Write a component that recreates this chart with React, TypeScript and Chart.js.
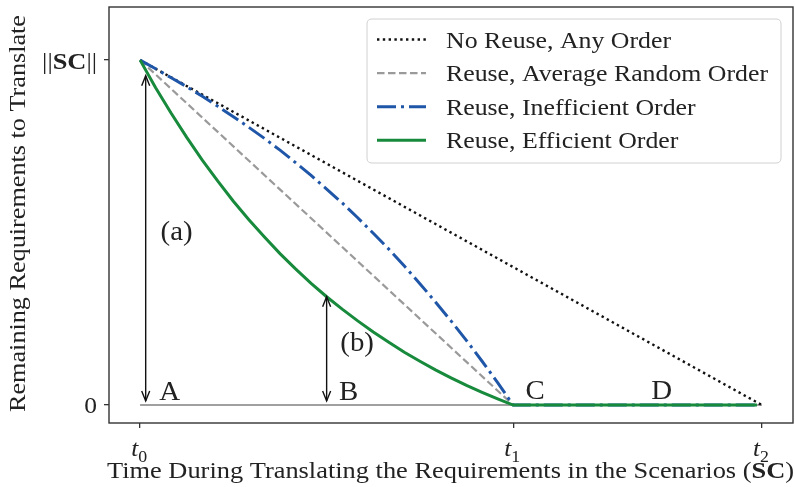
import React, { useEffect, useRef } from 'react';
import { Chart, registerables } from 'chart.js';

Chart.register(...registerables);

// ---------- data ----------
const curveX = [0, 0.25, 0.5, 0.75, 1, 1.25, 1.5, 1.75, 2, 2.25, 2.5, 2.75, 3, 3.25, 3.5, 3.75, 4, 4.25, 4.5, 4.75, 5, 5.25, 5.5, 5.75, 6, 9.92];
const efficientY = [1, 0.92, 0.846, 0.776, 0.71, 0.649, 0.591, 0.537, 0.487, 0.439, 0.395, 0.353, 0.314, 0.278, 0.244, 0.212, 0.182, 0.153, 0.127, 0.102, 0.079, 0.057, 0.037, 0.018, 0, 0];
const inefficientY = [1, 0.975, 0.949, 0.923, 0.895, 0.866, 0.836, 0.805, 0.773, 0.739, 0.703, 0.666, 0.626, 0.586, 0.543, 0.498, 0.452, 0.403, 0.352, 0.299, 0.244, 0.187, 0.127, 0.065, 0, 0];
const noReuseX = [0, 10];
const noReuseY = [1, 0];
const randomX = [0, 6];
const randomY = [1, 0];
const baselineX = [0, 10];
const baselineY = [0, 0];

const legendLabels = ['No Reuse, Any Order', 'Reuse, Average Random Order', 'Reuse, Inefficient Order', 'Reuse, Efficient Order'];

const xTickValues = [0, 6, 10];
const xTickSubs = ['0', '1', '2'];
const yTickValues = [0, 1];

const annoTexts = ['(a)', '(b)', 'A', 'B', 'C', 'D'];
const annoX = [0.33, 3.22, 0.31, 3.2, 6.2, 8.22];
const annoY = [0.478, 0.157, 0.015, 0.015, 0.017, 0.017];

const arrowX = [0.09, 3.0];
const arrowFrom = [0.012, 0.012];
const arrowTo = [0.955, 0.314];

// ---------- text helpers ----------
const SERIF = '"Liberation Serif", "Times New Roman", serif';
type Run = { t: string; size: number; weight?: string; style?: string; dy?: number };
const fontOf = (r: Run) => `${r.style || 'normal'} ${r.weight || 'normal'} ${r.size}px ${SERIF}`;
function runsWidth(ctx: CanvasRenderingContext2D, runs: Run[]) {
  let w = 0;
  for (const r of runs) {
    ctx.font = fontOf(r);
    w += ctx.measureText(r.t).width;
  }
  return w;
}
function drawRuns(ctx: CanvasRenderingContext2D, runs: Run[], x: number, y: number, align: string, hs: number) {
  const w = runsWidth(ctx, runs) * hs;
  let cx = align === 'left' ? x : align === 'center' ? x - w / 2 : x - w;
  for (const r of runs) {
    ctx.font = fontOf(r);
    const rw = ctx.measureText(r.t).width;
    ctx.save();
    ctx.translate(cx, y + (r.dy || 0));
    ctx.scale(hs, 1);
    ctx.textAlign = 'left';
    ctx.textBaseline = 'alphabetic';
    ctx.fillText(r.t, 0, 0);
    ctx.restore();
    cx += rw * hs;
  }
}

const TEXT = '#222222';

function drawArrowHead(ctx: CanvasRenderingContext2D, x: number, y: number, dir: number) {
  const L = 10, W = 4;
  ctx.beginPath();
  ctx.moveTo(x - W, y - dir * L);
  ctx.lineTo(x, y);
  ctx.lineTo(x + W, y - dir * L);
  ctx.stroke();
}

const decorPlugin = {
  id: 'decor',
  afterDraw(chart: any) {
    const ctx: CanvasRenderingContext2D = chart.ctx;
    const xs = chart.scales.x;
    const ys = chart.scales.y;
    const a = chart.chartArea;
    ctx.save();

    // frame
    ctx.strokeStyle = '#333333';
    ctx.lineWidth = 1.4;
    ctx.strokeRect(a.left, a.top, a.right - a.left, a.bottom - a.top);

    // arrows
    ctx.strokeStyle = '#111111';
    ctx.lineWidth = 1.4;
    arrowX.forEach((xv, i) => {
      const px = xs.getPixelForValue(xv);
      const y1 = ys.getPixelForValue(arrowFrom[i]);
      const y2 = ys.getPixelForValue(arrowTo[i]);
      ctx.beginPath();
      ctx.moveTo(px, y1);
      ctx.lineTo(px, y2);
      ctx.stroke();
      drawArrowHead(ctx, px, y1, 1);
      drawArrowHead(ctx, px, y2, -1);
    });

    ctx.fillStyle = TEXT;
    annoTexts.forEach((t, i) => {
      drawRuns(ctx, [{ t, size: 27.5 }], xs.getPixelForValue(annoX[i]), ys.getPixelForValue(annoY[i]), 'left', 1.05);
    });

    // y tick labels
    const y0 = ys.getPixelForValue(yTickValues[0]);
    const y1 = ys.getPixelForValue(yTickValues[1]);
    drawRuns(ctx, [{ t: '0', size: 24 }], a.left - 12, y0 + 8, 'right', 1.06);
    drawRuns(
      ctx,
      [
        { t: '||', size: 24 },
        { t: 'SC', size: 24, weight: 'bold' },
        { t: '||', size: 24 },
      ],
      a.left - 12,
      y1 + 9,
      'right',
      1.1
    );

    // x tick labels
    xTickValues.forEach((v, i) => {
      const px = xs.getPixelForValue(v);
      drawRuns(
        ctx,
        [
          { t: 't', size: 24, style: 'italic' },
          { t: xTickSubs[i], size: 17, dy: 6 },
        ],
        px - 1,
        a.bottom + 33,
        'center',
        1.05
      );
    });

    // x axis title
    const xRuns: Run[] = [
      { t: 'Time During Translating the Requirements in the Scenarios (', size: 24 },
      { t: 'SC', size: 24, weight: 'bold' },
      { t: ')', size: 24 },
    ];
    const xw = runsWidth(ctx, xRuns);
    drawRuns(ctx, xRuns, 107, 478, 'left', 687 / xw);

    // y axis title
    const yRuns: Run[] = [{ t: 'Remaining Requirements to Translate', size: 24 }];
    const yw = runsWidth(ctx, yRuns);
    ctx.save();
    ctx.translate(25, 213.5);
    ctx.rotate(-Math.PI / 2);
    drawRuns(ctx, yRuns, 0, 0, 'center', 397 / yw);
    ctx.restore();

    // legend
    const bx = 367, by = 19, bw = 414, bh = 144, r = 5;
    ctx.beginPath();
    ctx.moveTo(bx + r, by);
    ctx.lineTo(bx + bw - r, by);
    ctx.quadraticCurveTo(bx + bw, by, bx + bw, by + r);
    ctx.lineTo(bx + bw, by + bh - r);
    ctx.quadraticCurveTo(bx + bw, by + bh, bx + bw - r, by + bh);
    ctx.lineTo(bx + r, by + bh);
    ctx.quadraticCurveTo(bx, by + bh, bx, by + bh - r);
    ctx.lineTo(bx, by + r);
    ctx.quadraticCurveTo(bx, by, bx + r, by);
    ctx.closePath();
    ctx.fillStyle = 'rgba(255,255,255,0.85)';
    ctx.fill();
    ctx.strokeStyle = '#d0d0d0';
    ctx.lineWidth = 1;
    ctx.stroke();

    const lw = runsWidth(ctx, [{ t: legendLabels[1], size: 24 }]);
    const lhs = 322 / lw;
    const entries = chart.data.datasets.filter((d: any) => d.label);
    entries.forEach((d: any, i: number) => {
      const cy = 39.5 + i * 33.6;
      ctx.save();
      ctx.strokeStyle = d.borderColor;
      ctx.lineWidth = d.borderWidth;
      ctx.setLineDash(d.borderDash || []);
      ctx.beginPath();
      ctx.moveTo(377, cy);
      ctx.lineTo(426, cy);
      ctx.stroke();
      ctx.restore();
      ctx.fillStyle = TEXT;
      drawRuns(ctx, [{ t: d.label, size: 24 }], 446, cy + 8, 'left', lhs);
    });

    ctx.restore();
  },
};

const pts = (xArr: number[], yArr: number[]) => xArr.map((x, i) => ({ x, y: yArr[i] }));

export default function App() {
  const ref = useRef<HTMLCanvasElement>(null);
  useEffect(() => {
    if (!ref.current) return;
    const chart = new Chart(ref.current, {
      type: 'line',
      data: {
        datasets: [
          {
            label: legendLabels[0],
            data: pts(noReuseX, noReuseY),
            borderColor: '#111111',
            borderWidth: 2.4,
            borderDash: [2.4, 3.4],
            order: 3,
          },
          {
            label: legendLabels[1],
            data: pts(randomX, randomY),
            borderColor: '#9a9a9a',
            borderWidth: 2.2,
            borderDash: [7.5, 3.5],
            order: 2,
          },
          {
            label: legendLabels[2],
            data: pts(curveX, inefficientY),
            borderColor: '#1f56a8',
            borderWidth: 3,
            borderDash: [19, 5, 3, 5],
            order: 1,
          },
          {
            label: legendLabels[3],
            data: pts(curveX, efficientY),
            borderColor: '#178a3c',
            borderWidth: 3,
            order: 0,
          },
          {
            label: '',
            data: pts(baselineX, baselineY),
            borderColor: '#808080',
            borderWidth: 1.6,
            order: 4,
          },
        ] as any,
      },
      options: {
        animation: false,
        responsive: false,
        devicePixelRatio: 1,
        layout: { padding: { left: 104, right: 2, top: 7, bottom: 59 } },
        plugins: { legend: { display: false }, tooltip: { enabled: false } },
        elements: { point: { radius: 0 }, line: { tension: 0, fill: false } },
        scales: {
          x: {
            type: 'linear',
            min: -0.5,
            max: 10.5,
            afterBuildTicks: (s: any) => {
              s.ticks = xTickValues.map((v) => ({ value: v }));
            },
            ticks: { display: false },
            grid: { drawOnChartArea: false, drawTicks: true, tickLength: 5, color: '#333333', lineWidth: 1.3 },
            border: { display: false },
          },
          y: {
            type: 'linear',
            min: -0.052,
            max: 1.154,
            afterBuildTicks: (s: any) => {
              s.ticks = yTickValues.map((v) => ({ value: v }));
            },
            ticks: { display: false },
            grid: { drawOnChartArea: false, drawTicks: true, tickLength: 5, color: '#333333', lineWidth: 1.3 },
            border: { display: false },
          },
        },
      } as any,
      plugins: [decorPlugin],
    });
    return () => chart.destroy();
  }, []);
  return (
    <div style={{ position: 'absolute', left: 0, top: 0, width: 795, height: 487, background: '#fff' }}>
      <canvas ref={ref} width={795} height={487} style={{ width: 795, height: 487 }} />
    </div>
  );
}
